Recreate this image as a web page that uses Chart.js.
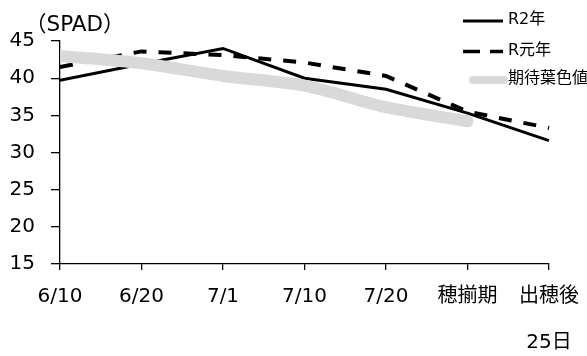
<!DOCTYPE html>
<html>
<head>
<meta charset="utf-8">
<script src="https://cdn.jsdelivr.net/npm/chart.js@4/dist/chart.umd.min.js"></script>
<style>
  html, body { margin: 0; padding: 0; background: #fff; }
  canvas { display: block; }
</style>
</head>
<body>
<canvas id="chart" width="587" height="356"></canvas>
<script>
// Leaf colour (SPAD) through the season
const categories = ['6/10', '6/20', '7/1', '7/10', '7/20', '穂揃期', ['出穂後', '25日']];
const seriesNames = ['R2年', 'R元年', '期待葉色値'];
const r2Values = [39.7, 41.9, 44.0, 40.0, 38.5, 35.3, 31.6];
const r1Values = [41.5, 43.6, 43.1, 42.1, 40.3, 35.5, 33.3];
const expectedValues = [43.0, 42.0, 40.3, 39.0, 36.1, 34.2, null];
const yTicks = [15, 20, 25, 30, 35, 40, 45];
const yUnit = '（SPAD）';

const BLACK = '#000000';
const GREY = '#d9d9d9';
const LATIN = '"DejaVu Sans", "Noto Sans CJK JP", sans-serif';

// Unit caption and the legend in the upper right
const decorations = {
  id: 'decorations',
  afterDraw(chart) {
    const ctx = chart.ctx;
    ctx.save();
    ctx.fillStyle = BLACK;
    ctx.textBaseline = 'middle';
    ctx.textAlign = 'left';
    ctx.font = '21.5px ' + LATIN;
    ctx.fillText(yUnit, 25, 25);

    const x0 = 463, x1 = 503, tx = 508;
    const rows = [
      { y: 21, width: 3, dash: [], color: BLACK, cap: 'butt', x0: x0, x1: x1 },
      { y: 51.5, width: 3.5, dash: [17, 10], color: BLACK, cap: 'butt', x0: x0, x1: x1 },
      { y: 80, width: 8, dash: [], color: GREY, cap: 'round', x0: 473, x1: 504 }
    ];
    rows.forEach((r, i) => {
      ctx.beginPath();
      ctx.setLineDash(r.dash);
      ctx.lineCap = r.cap;
      ctx.lineWidth = r.width;
      ctx.strokeStyle = r.color;
      ctx.moveTo(r.x0, r.y);
      ctx.lineTo(r.x1, r.y);
      ctx.stroke();
      ctx.setLineDash([]);
      ctx.font = '16px ' + LATIN;
      ctx.fillStyle = BLACK;
      ctx.fillText(seriesNames[i], tx, r.y - 1);
    });
    ctx.restore();
  }
};

new Chart(document.getElementById('chart'), {
  type: 'line',
  data: {
    labels: categories,
    datasets: [
      {
        label: seriesNames[0],
        data: r2Values,
        borderColor: BLACK,
        borderWidth: 3,
        tension: 0,
        order: 1,
        clip: { left: 0, right: 20, top: 20, bottom: 20 }
      },
      {
        label: seriesNames[1],
        data: r1Values,
        borderColor: BLACK,
        borderWidth: 4,
        borderDash: [13, 12],
        tension: 0,
        order: 2,
        clip: { left: 0, right: 20, top: 20, bottom: 20 }
      },
      {
        label: seriesNames[2],
        data: expectedValues,
        borderColor: GREY,
        borderWidth: 12,
        borderCapStyle: 'round',
        borderJoinStyle: 'round',
        tension: 0.3,
        order: 0,
        clip: { left: 0, right: 20, top: 20, bottom: 20 }
      }
    ]
  },
  options: {
    responsive: false,
    animation: false,
    devicePixelRatio: 1,
    layout: { padding: { left: 0, right: 38, top: 41, bottom: 0 } },
    elements: { point: { radius: 0, hoverRadius: 0 } },
    plugins: { legend: { display: false }, tooltip: { enabled: false } },
    scales: {
      x: {
        type: 'category',
        offset: false,
        grid: { display: true, drawOnChartArea: false, drawTicks: true, tickLength: 6, color: BLACK, lineWidth: 1.3 },
        border: { display: true, color: BLACK, width: 1.3 },
        ticks: {
          autoSkip: false,
          maxRotation: 0,
          minRotation: 0,
          padding: 4,
          color: BLACK,
          font: { family: LATIN, size: 20, lineHeight: '46px' }
        },
        afterFit(scale) { scale.height = 92; }
      },
      y: {
        min: yTicks[0],
        max: yTicks[yTicks.length - 1],
        grid: { display: true, drawOnChartArea: false, drawTicks: true, tickLength: 9, color: BLACK, lineWidth: 1.3 },
        border: { display: true, color: BLACK, width: 1.3 },
        ticks: {
          stepSize: yTicks[1] - yTicks[0],
          padding: 16,
          color: BLACK,
          font: { family: LATIN, size: 20 }
        },
        afterBuildTicks(scale) { scale.ticks = yTicks.map(v => ({ value: v })); },
        afterFit(scale) { scale.width = 60; }
      }
    }
  },
  plugins: [decorations]
});
</script>
</body>
</html>
